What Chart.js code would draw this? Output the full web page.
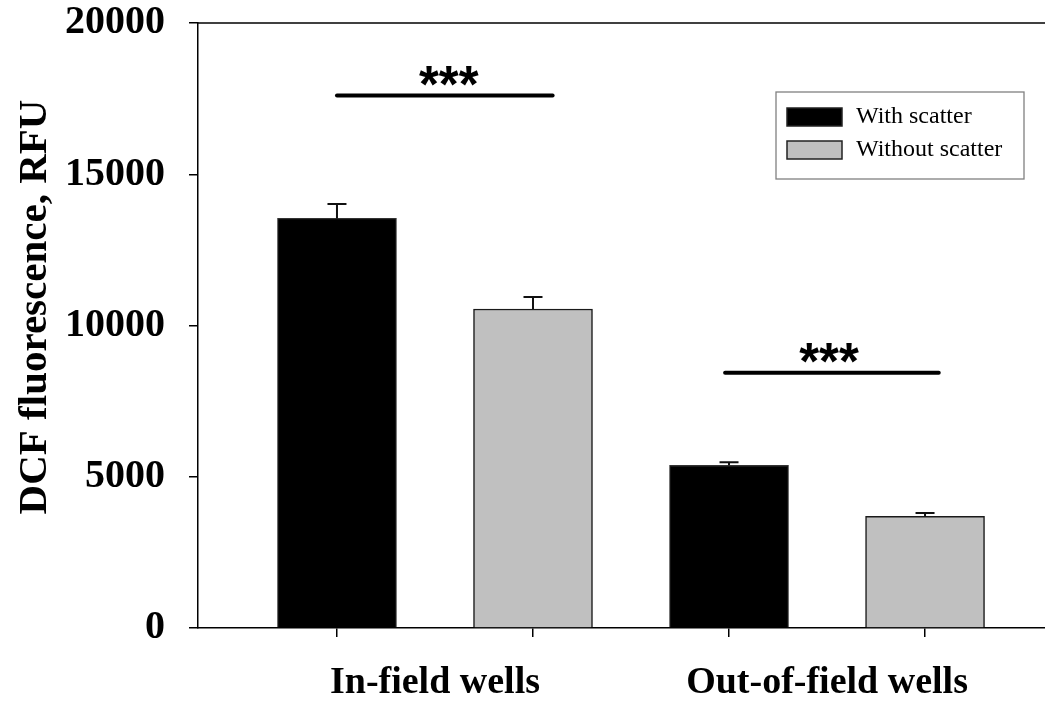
<!DOCTYPE html>
<html><head><meta charset="utf-8">
<script src="https://cdn.jsdelivr.net/npm/chart.js@4.4.1/dist/chart.umd.min.js"></script>
<style>html,body{margin:0;padding:0;background:#fff;}#wrap{width:1045px;height:701px;}</style>
</head><body><div id="wrap"><canvas id="c" width="1045" height="701"></canvas></div>
<script>
// ---- data ----
const categories = ["In-field wells", "Out-of-field wells"];
const seriesLabels = ["With scatter", "Without scatter"];
const withScatter = [13540, 5380];
const withoutScatter = [10545, 3690];
const errWith = [475, 100];
const errWithout = [400, 110];
const yTicks = [0, 5000, 10000, 15000, 20000];
const yTitle = "DCF fluorescence, RFU";
// significance brackets (in bar-slot units on x, value units on y)
const sigY = [17600, 8440];
const sigFrom = [0, 1.98];
const sigTo = [1.1, 3.07];
const sigTextX = [0.57, 2.51];
const sigText = ["***", "***"];

// bar slot positions: group g, series s -> 2g + s
const slotWith = categories.map((c, g) => 2 * g);
const slotWithout = categories.map((c, g) => 2 * g + 1);
const barSlots = slotWith.concat(slotWithout).sort((a, b) => a - b);
const labelSlots = categories.map((c, g) => 2 * g + 0.5);

const serif = "'Liberation Serif', 'Times New Roman', serif";

const errorBars = {
  id: 'errorBars',
  afterDatasetsDraw(chart) {
    const ctx = chart.ctx, ys = chart.scales.y;
    chart.data.datasets.forEach((ds, di) => {
      const meta = chart.getDatasetMeta(di);
      meta.data.forEach((bar, i) => {
        const v = ds.data[i].y, e = ds.err[i];
        const yTop = ys.getPixelForValue(v + e);
        const yBar = ys.getPixelForValue(v);
        ctx.save();
        ctx.strokeStyle = '#111';
        ctx.lineWidth = 2;
        ctx.beginPath();
        ctx.moveTo(bar.x, yBar);
        ctx.lineTo(bar.x, yTop);
        ctx.moveTo(bar.x - 9.5, yTop);
        ctx.lineTo(bar.x + 9.5, yTop);
        ctx.stroke();
        ctx.restore();
      });
    });
  }
};

const sigPlugin = {
  id: 'sig',
  afterDatasetsDraw(chart) {
    const ctx = chart.ctx, xs = chart.scales.x, ys = chart.scales.y;
    sigY.forEach((yv, i) => {
      const y = ys.getPixelForValue(yv);
      const x0 = xs.getPixelForValue(sigFrom[i]);
      const x1 = xs.getPixelForValue(sigTo[i]);
      ctx.save();
      ctx.strokeStyle = '#000';
      ctx.lineWidth = 4;
      ctx.lineCap = 'round';
      ctx.beginPath();
      ctx.moveTo(x0, y);
      ctx.lineTo(x1, y);
      ctx.stroke();
      ctx.fillStyle = '#000';
      ctx.font = "bold 51px 'Liberation Sans', Arial, sans-serif";
      ctx.textAlign = 'center';
      ctx.textBaseline = 'alphabetic';
      ctx.fillText(sigText[i], xs.getPixelForValue(sigTextX[i]), y + 6);
      ctx.restore();
    });
  }
};

const frameAndLegend = {
  id: 'frameLegend',
  afterDraw(chart) {
    const ctx = chart.ctx, a = chart.chartArea;
    ctx.save();
    ctx.strokeStyle = '#000';
    ctx.lineWidth = 1.5;
    ctx.beginPath();
    ctx.moveTo(a.left, a.top);
    ctx.lineTo(a.right, a.top);
    ctx.stroke();
    // y-axis title
    ctx.save();
    ctx.translate(35, 307);
    ctx.rotate(-Math.PI / 2);
    ctx.fillStyle = '#000';
    ctx.font = "bold 41px " + serif;
    ctx.textAlign = 'center';
    ctx.textBaseline = 'middle';
    ctx.fillText(yTitle, 0, 0);
    ctx.restore();
    // legend
    ctx.strokeStyle = '#808080';
    ctx.lineWidth = 1.3;
    ctx.strokeRect(776, 92, 248, 87);
    chart.data.datasets.forEach((ds, i) => {
      const y = 108 + i * 33;
      ctx.fillStyle = ds.backgroundColor;
      ctx.fillRect(787, y, 55, 18);
      ctx.strokeStyle = '#222';
      ctx.lineWidth = 1.5;
      ctx.strokeRect(787, y, 55, 18);
      ctx.fillStyle = '#000';
      ctx.font = "24px " + serif;
      ctx.textAlign = 'left';
      ctx.textBaseline = 'middle';
      ctx.fillText(ds.label, 856, y + 9);
    });
    ctx.restore();
  }
};

new Chart(document.getElementById('c'), {
  type: 'bar',
  data: {
    datasets: [
      { label: seriesLabels[0], data: withScatter.map((v, g) => ({ x: slotWith[g], y: v })), err: errWith,
        backgroundColor: '#000000', borderColor: '#333', borderWidth: 1.2, grouped: false, barThickness: 119 },
      { label: seriesLabels[1], data: withoutScatter.map((v, g) => ({ x: slotWithout[g], y: v })), err: errWithout,
        backgroundColor: '#c0c0c0', borderColor: '#1a1a1a', borderWidth: 1.5, grouped: false, barThickness: 119 }
    ]
  },
  options: {
    responsive: false,
    animation: false,
    layout: { padding: { top: 23, right: 0, left: 0, bottom: 0 } },
    plugins: { legend: { display: false }, tooltip: { enabled: false } },
    scales: {
      x: {
        type: 'linear', min: -0.709, max: 3.612, offset: false,
        afterBuildTicks: s => { s.ticks = barSlots.concat(labelSlots).sort((a, b) => a - b).map(v => ({ value: v })); },
        afterFit: s => { s.height = 73; s.paddingLeft = 0; s.paddingRight = 0; },
        ticks: {
          autoSkip: false, maxRotation: 0, minRotation: 0, padding: 23, color: '#000',
          font: { family: serif, weight: 'bold', size: 38 },
          callback: v => { const k = labelSlots.indexOf(v); return k >= 0 ? categories[k] : ''; }
        },
        grid: {
          offset: false, drawOnChartArea: false, tickLength: 9, lineWidth: 1.5,
          tickColor: c => (c.tick && Number.isInteger(c.tick.value)) ? '#000' : 'rgba(0,0,0,0)'
        },
        border: { color: '#000', width: 1.5 }
      },
      y: {
        min: 0, max: 20000,
        afterBuildTicks: s => { s.ticks = yTicks.map(v => ({ value: v })); },
        afterFit: s => { s.width = 198; s.paddingTop = 0; s.paddingBottom = 0; },
        ticks: { padding: 24, color: '#000', font: { family: serif, weight: 'bold', size: 40 }, callback: v => String(v) },
        grid: { drawOnChartArea: false, tickLength: 9, lineWidth: 1.5, tickColor: '#000' },
        border: { color: '#000', width: 1.5 },
        title: { display: false, text: yTitle }
      }
    }
  },
  plugins: [errorBars, sigPlugin, frameAndLegend]
});
</script></body></html>
